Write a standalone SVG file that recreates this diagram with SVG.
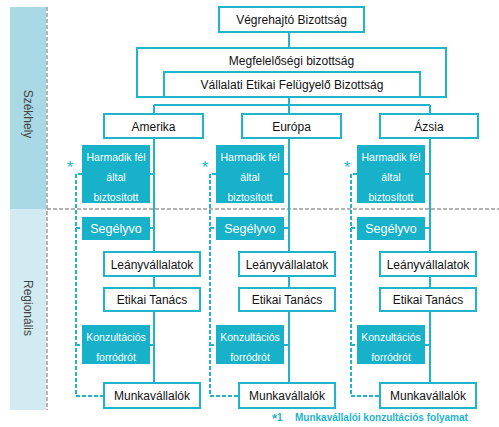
<svg xmlns="http://www.w3.org/2000/svg" width="499" height="427" viewBox="0 0 499 427">
<style>
.box{fill:#fff;stroke:#1fb4cb;stroke-width:2}
.fbox{fill:#17b2c9}
.t{font-family:"Liberation Sans",Arial,sans-serif;font-size:12px;fill:#111;text-anchor:middle}
.w{font-family:"Liberation Sans",Arial,sans-serif;font-size:10.5px;fill:#fff;text-anchor:middle}
.ws{font-family:"Liberation Sans",Arial,sans-serif;font-size:12.5px;fill:#fff;text-anchor:middle}
.ln{stroke:#1fb4cb;stroke-width:2;fill:none}
.dl{stroke:#1fb4cb;stroke-width:2;fill:none;stroke-dasharray:4 2}
.gd{stroke:#9a9a9a;stroke-width:1.5;fill:none;stroke-dasharray:4 2}
.ast{font-family:"Liberation Sans",Arial,sans-serif;font-size:17px;fill:#1fb4cb;text-anchor:middle}
.side{font-family:"Liberation Sans",Arial,sans-serif;font-size:12px;fill:#444;text-anchor:middle}
.leg{font-family:"Liberation Sans",Arial,sans-serif;font-size:10px;font-weight:bold;fill:#1fb4cb}
</style>
<rect width="499" height="427" fill="#fff"/>
<g id="sidebar">
<rect x="10" y="7" width="36" height="202" fill="#a9d9e5"/>
<rect x="10" y="209" width="36" height="201" fill="#d2ebf2"/>
<text class="side" transform="translate(24,114) rotate(90)">Székhely</text>
<text class="side" transform="translate(24,308) rotate(90)">Regionális</text>
<path class="gd" d="M47,7 V410 M47,209 H499"/>
</g>
<g id="connectors">
<path class="ln" d="M289,32 V48 M289,97 V105 M154,105 H430 M154,105 V114 M289,105 V114 M430,105 V114"/>
<path class="ln" d="M154,138 V383 M150,174 H154 M150,228 H154 M150,345 H154"/>
<path class="ln" d="M289,138 V383 M284,174 H289 M284,228 H289 M284,345 H289"/>
<path class="ln" d="M430,138 V383 M425,174 H430 M425,228 H430 M425,345 H430"/>
<path class="dl" d="M82,174 H76 V396 H104 M76,228 H82 M76,345 H82"/>
<path class="dl" d="M216,174 H210 V396 H239 M210,228 H216 M210,345 H216"/>
<path class="dl" d="M357,174 H351 V396 H380 M351,228 H357 M351,345 H357"/>
</g>
<g id="vegrehajto"><rect class="box" x="219" y="7" width="145" height="25"/><text class="t" x="291.5" y="24">Végrehajtó Bizottság</text></g>
<g id="megfelelosegi"><rect class="box" x="137" y="48" width="309" height="49"/><text class="t" x="291.5" y="65">Megfelelőségi bizottság</text></g>
<g id="vallalati"><rect class="box" x="164" y="72" width="256" height="25"/><text class="t" x="292" y="89">Vállalati Etikai Felügyelő Bizottság</text></g>
<g id="amerika"><rect class="box" x="104" y="114" width="99" height="24"/><text class="t" x="153.5" y="130.5">Amerika</text></g>
<g id="europa"><rect class="box" x="242" y="114" width="99" height="24"/><text class="t" x="291.5" y="130.5">Európa</text></g>
<g id="azsia"><rect class="box" x="380" y="114" width="98" height="24"/><text class="t" x="429" y="130.5">Ázsia</text></g>
<g id="col-amerika">
<g id="a-harmadik"><rect class="fbox" x="82" y="145" width="68" height="58"/><text class="w" x="116" y="161">Harmadik fél</text><text class="w" x="116" y="181">által</text><text class="w" x="116" y="201">biztosított</text></g>
<text class="ast" x="70" y="173">*</text>
<g id="a-segely"><rect class="fbox" x="82" y="217" width="68" height="23"/><text class="ws" x="116" y="233">Segélyvo</text></g>
<g id="a-leany"><rect class="box" x="104" y="252" width="96" height="24"/><text class="t" x="152" y="268.5">Leányvállalatok</text></g>
<g id="a-etikai"><rect class="box" x="104" y="288" width="96" height="23"/><text class="t" x="152" y="304">Etikai Tanács</text></g>
<g id="a-konz"><rect class="fbox" x="82" y="325" width="68" height="39"/><text class="w" x="116" y="341">Konzultációs</text><text class="w" x="116" y="361">forródrót</text></g>
<g id="a-munka"><rect class="box" x="104" y="383" width="96" height="25"/><text class="t" x="152" y="400">Munkavállalók</text></g>
</g>
<g id="col-europa">
<g id="e-harmadik"><rect class="fbox" x="216" y="145" width="68" height="58"/><text class="w" x="250" y="161">Harmadik fél</text><text class="w" x="250" y="181">által</text><text class="w" x="250" y="201">biztosított</text></g>
<text class="ast" x="205" y="173">*</text>
<g id="e-segely"><rect class="fbox" x="216" y="217" width="68" height="23"/><text class="ws" x="250" y="233">Segélyvo</text></g>
<g id="e-leany"><rect class="box" x="239" y="252" width="96" height="24"/><text class="t" x="287" y="268.5">Leányvállalatok</text></g>
<g id="e-etikai"><rect class="box" x="239" y="288" width="96" height="23"/><text class="t" x="287" y="304">Etikai Tanács</text></g>
<g id="e-konz"><rect class="fbox" x="216" y="325" width="68" height="39"/><text class="w" x="250" y="341">Konzultációs</text><text class="w" x="250" y="361">forródrót</text></g>
<g id="e-munka"><rect class="box" x="239" y="383" width="96" height="25"/><text class="t" x="287" y="400">Munkavállalók</text></g>
</g>
<g id="col-azsia">
<g id="z-harmadik"><rect class="fbox" x="357" y="145" width="68" height="58"/><text class="w" x="391" y="161">Harmadik fél</text><text class="w" x="391" y="181">által</text><text class="w" x="391" y="201">biztosított</text></g>
<text class="ast" x="347" y="173">*</text>
<g id="z-segely"><rect class="fbox" x="357" y="217" width="68" height="23"/><text class="ws" x="391" y="233">Segélyvo</text></g>
<g id="z-leany"><rect class="box" x="380" y="252" width="96" height="24"/><text class="t" x="428" y="268.5">Leányvállalatok</text></g>
<g id="z-etikai"><rect class="box" x="380" y="288" width="96" height="23"/><text class="t" x="428" y="304">Etikai Tanács</text></g>
<g id="z-konz"><rect class="fbox" x="357" y="325" width="68" height="39"/><text class="w" x="391" y="341">Konzultációs</text><text class="w" x="391" y="361">forródrót</text></g>
<g id="z-munka"><rect class="box" x="380" y="383" width="96" height="25"/><text class="t" x="428" y="400">Munkavállalók</text></g>
</g>
<g id="legend">
<text class="leg" x="272" y="421"><tspan font-size="13" dy="2">*</tspan><tspan dy="-2">1</tspan></text>
<text class="leg" x="295" y="421">Munkavállalói konzultációs folyamat</text>
</g>
</svg>
